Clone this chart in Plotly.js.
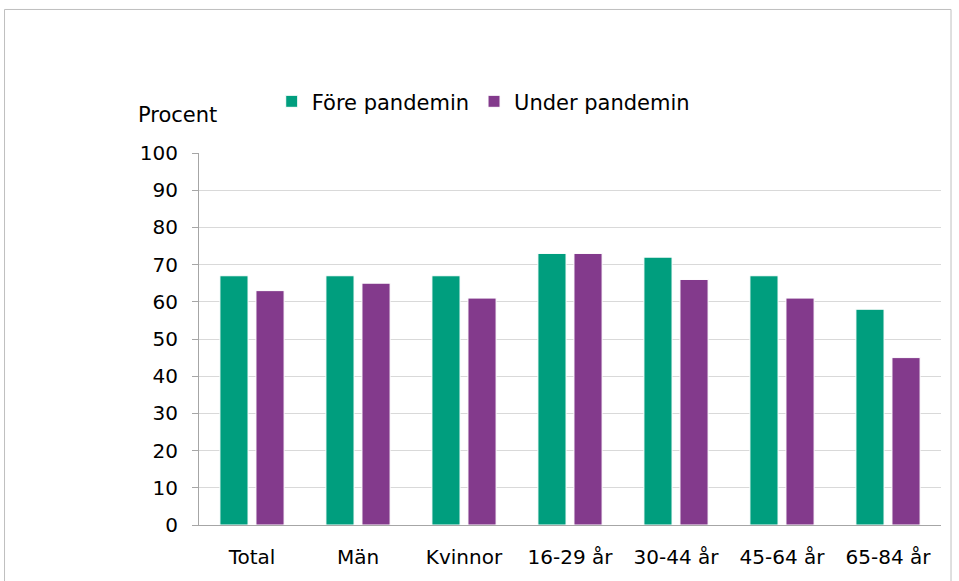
<!DOCTYPE html>
<html>
<head>
<meta charset="utf-8">
<script src="https://cdn.plot.ly/plotly-3.0.1.min.js"></script>
<style>html,body{margin:0;padding:0;background:#fff;}#chart{width:959px;height:581px;}</style>
</head>
<body>
<div id="chart"></div>
<script>
const categories = ["Total", "Män", "Kvinnor", "16-29 år", "30-44 år", "45-64 år", "65-84 år"];
const seriesNames = ["Före pandemin", "Under pandemin"];
const fore = [67, 67, 67, 73, 72, 67, 58];
const under = [63, 65, 61, 73, 66, 61, 45];
const yTicks = [0, 10, 20, 30, 40, 50, 60, 70, 80, 90, 100];

const FONT = "DejaVu Sans, Verdana, sans-serif";
const traces = [
  {type: "bar", name: seriesNames[0], x: categories, y: fore,
   marker: {color: "#009E7E", line: {color: "#ffffff", width: 1}}},
  {type: "bar", name: seriesNames[1], x: categories, y: under,
   marker: {color: "#833A8C", line: {color: "#ffffff", width: 1}}}
];
const layout = {
  width: 959, height: 581,
  margin: {l: 199, r: 18, t: 153, b: 56},
  paper_bgcolor: "#ffffff", plot_bgcolor: "#ffffff",
  font: {family: FONT, size: 20, color: "#000000"},
  barmode: "group", bargap: 0.32, bargroupgap: 0.22,
  showlegend: true,
  legend: {orientation: "h", x: 0.098, xanchor: "left", y: 1.138, yanchor: "middle",
           font: {family: FONT, size: 21, color: "#000"}, itemwidth: 30, tracegroupgap: 0,
           bgcolor: "rgba(0,0,0,0)"},
  xaxis: {type: "category", showline: true, linecolor: "#a6a6a6", linewidth: 1,
          ticks: "", showgrid: false, ticklabelstandoff: 14,
          tickfont: {family: FONT, size: 20, color: "#000"}},
  yaxis: {range: [0, 100], tickvals: yTicks, showline: true, linecolor: "#a6a6a6", linewidth: 1,
          ticks: "outside", ticklen: 6, tickcolor: "#a6a6a6", showgrid: true, gridcolor: "#d9d9d9",
          gridwidth: 1, zeroline: false, ticklabelstandoff: 10,
          tickfont: {family: FONT, size: 20, color: "#000"}},
  annotations: [{text: "Procent", xref: "paper", yref: "paper", x: -0.0296, y: 1.102,
                 xanchor: "center", yanchor: "middle", showarrow: false,
                 font: {family: FONT, size: 21, color: "#000"}}],
  shapes: [{type: "rect", xref: "paper", yref: "paper", x0: -0.2621, x1: 1.0135, y0: -0.2, y1: 1.3858,
            line: {color: "#bfbfbf", width: 1}, fillcolor: "rgba(0,0,0,0)", layer: "below"}]
};
Plotly.newPlot("chart", traces, layout, {displayModeBar: false, staticPlot: true});
</script>
</body>
</html>
